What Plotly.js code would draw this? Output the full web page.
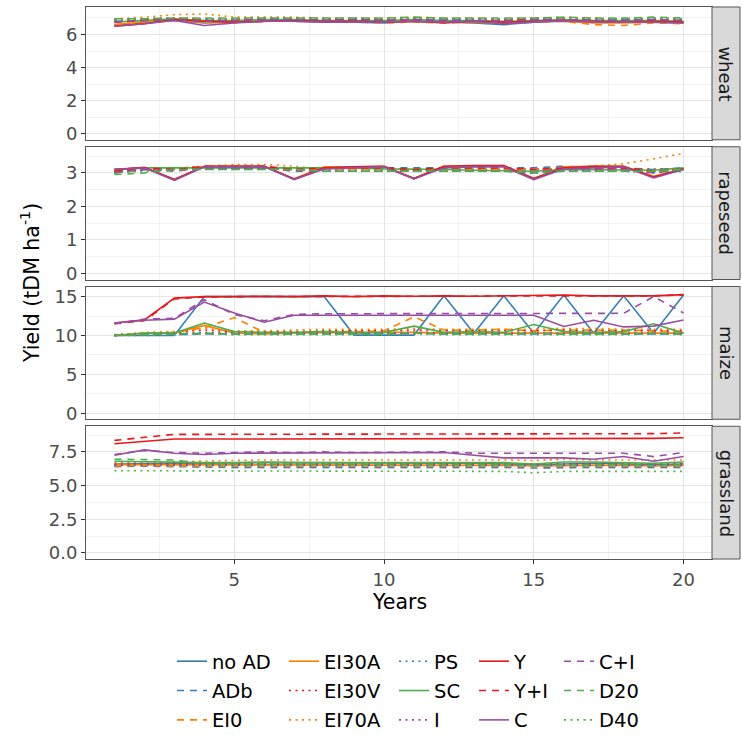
<!DOCTYPE html>
<html><head><meta charset="utf-8">
<script src="https://cdn.plot.ly/plotly-3.0.1.min.js"></script>
<style>html,body{margin:0;padding:0;background:#fff}</style>
</head><body><div id="chart" style="width:742px;height:735px"></div>
<script>
// ---------------- data ----------------
const years = [1,2,3,4,5,6,7,8,9,10,11,12,13,14,15,16,17,18,19,20];
const scenarios = ['no AD','ADb','EI0','EI30A','EI30V','EI70A','PS','SC','I','Y','Y+I','C','C+I','D20','D40'];
const crops = ['wheat','rapeseed','maize','grassland'];

// wheat
const wheat_noAD  = [6.55,6.7,6.85,6.7,6.75,6.8,6.8,6.75,6.75,6.7,6.8,6.75,6.7,6.6,6.75,6.8,6.75,6.8,6.75,6.7];
const wheat_ADb   = [6.8,6.85,6.9,6.85,6.85,6.9,6.9,6.85,6.9,6.85,6.9,6.9,6.85,6.85,6.9,6.9,6.85,6.9,6.9,6.85];
const wheat_EI0   = [6.6,6.75,6.85,6.75,6.7,6.8,6.8,6.75,6.75,6.7,6.75,6.7,6.75,6.7,6.75,6.8,6.6,6.55,6.7,6.65];
const wheat_EI30A = [6.6,6.75,6.9,6.75,6.75,6.8,6.8,6.8,6.75,6.75,6.8,6.75,6.75,6.7,6.8,6.8,6.7,6.7,6.75,6.7];
const wheat_EI30V = [6.9,6.95,7.0,6.95,6.95,7.0,7.0,6.95,6.95,6.95,7.0,6.95,6.95,6.9,6.95,7.0,6.95,6.9,6.95,6.9];
const wheat_EI70A = [6.95,7.05,7.2,7.25,7.05,7.05,7.05,7.0,7.0,7.0,7.05,7.0,7.0,6.95,7.0,7.05,7.0,6.95,7.0,6.95];
const wheat_PS    = [6.85,6.9,6.95,6.9,6.9,6.95,6.95,6.9,6.95,6.9,6.95,6.9,6.9,6.9,6.95,6.95,6.9,6.9,6.9,6.9];
const wheat_SC    = [6.75,6.85,6.95,6.85,6.85,6.9,6.9,6.85,6.85,6.85,6.9,6.85,6.85,6.8,6.85,6.9,6.85,6.85,6.85,6.8];
const wheat_I     = [6.85,6.9,6.95,6.85,6.9,6.95,6.95,6.9,6.9,6.9,6.95,6.9,6.9,6.85,6.9,6.95,6.9,6.9,6.9,6.85];
const wheat_Y     = [6.5,6.65,6.9,6.8,6.75,6.8,6.85,6.8,6.8,6.75,6.8,6.7,6.8,6.75,6.8,6.85,6.8,6.75,6.8,6.75];
const wheat_YI    = [6.75,6.85,6.95,6.85,6.85,6.9,6.9,6.85,6.9,6.85,6.9,6.8,6.85,6.85,6.9,6.9,6.85,6.8,6.85,6.8];
const wheat_C     = [6.5,6.65,6.85,6.55,6.7,6.8,6.8,6.75,6.75,6.75,6.8,6.75,6.8,6.65,6.75,6.85,6.75,6.75,6.75,6.7];
const wheat_CI    = [6.75,6.85,6.9,6.8,6.85,6.9,6.9,6.85,6.9,6.85,6.9,6.85,6.85,6.8,6.9,6.9,6.85,6.85,6.9,6.85];
const wheat_D20   = [6.95,6.95,7.0,7.0,7.0,7.0,7.0,7.0,7.0,7.0,7.05,7.0,7.0,7.0,7.0,7.05,7.0,7.0,7.05,7.0];
const wheat_D40   = [6.9,6.95,7.0,6.95,6.95,7.0,7.0,6.95,7.0,6.95,7.0,6.95,6.95,6.95,7.0,7.0,6.95,6.95,7.0,6.95];

// rapeseed
const rape_noAD  = [3.1,3.15,2.8,3.18,3.2,3.2,2.82,3.15,3.18,3.18,2.83,3.18,3.2,3.2,2.82,3.15,3.18,3.18,2.88,3.1];
const rape_ADb   = [3.05,3.1,3.15,3.15,3.15,3.15,3.15,3.15,3.15,3.15,3.15,3.15,3.15,3.15,3.15,3.2,3.15,3.15,3.1,3.15];
const rape_EI0   = [3.05,3.12,3.1,3.18,3.18,3.18,3.05,3.12,3.12,3.12,3.05,3.12,3.12,3.12,3.05,3.12,3.12,3.12,3.05,3.1];
const rape_EI30A = [3.1,3.15,2.8,3.2,3.2,3.2,2.82,3.18,3.18,3.2,2.83,3.2,3.2,3.2,2.83,3.18,3.2,3.2,2.9,3.12];
const rape_EI30V = [3.05,3.1,3.15,3.15,3.15,3.15,3.15,3.1,3.1,3.1,3.1,3.1,3.1,3.1,3.1,3.1,3.1,3.1,3.1,3.12];
const rape_EI70A = [3.1,3.15,3.15,3.2,3.25,3.25,3.2,3.1,3.1,3.1,3.1,3.1,3.1,3.1,3.1,3.15,3.2,3.27,3.42,3.58];
const rape_PS    = [3.0,3.1,3.1,3.15,3.15,3.15,3.1,3.05,3.05,3.05,3.1,3.05,3.05,3.05,2.98,3.1,3.05,3.05,3.0,3.05];
const rape_SC    = [3.1,3.15,3.15,3.15,3.15,3.15,3.15,3.15,3.15,3.12,3.12,3.1,3.08,3.07,3.05,3.1,3.1,3.1,3.08,3.15];
const rape_I     = [3.0,3.1,3.1,3.15,3.15,3.15,3.1,3.05,3.05,3.05,3.05,3.05,3.05,3.05,3.05,3.1,3.05,3.05,3.05,3.1];
const rape_Y     = [3.1,3.17,2.8,3.2,3.2,3.2,2.82,3.15,3.18,3.2,2.83,3.2,3.22,3.22,2.83,3.15,3.2,3.2,2.88,3.12];
const rape_YI    = [3.05,3.15,3.1,3.2,3.2,3.2,3.1,3.15,3.15,3.15,3.1,3.15,3.15,3.15,3.1,3.15,3.15,3.15,3.05,3.12];
const rape_C     = [3.1,3.15,2.78,3.18,3.18,3.18,2.8,3.12,3.15,3.18,2.82,3.15,3.18,3.18,2.8,3.12,3.15,3.18,2.85,3.1];
const rape_CI    = [3.0,3.1,3.05,3.15,3.15,3.15,3.05,3.05,3.05,3.05,3.05,3.05,3.05,3.05,3.0,3.1,3.1,3.1,3.0,3.1];
const rape_D20   = [2.95,3.0,3.1,3.1,3.1,3.1,3.1,3.05,3.05,3.05,3.05,3.05,3.05,3.05,3.0,3.05,3.05,3.05,3.05,3.1];
const rape_D40   = [3.0,3.05,3.1,3.1,3.1,3.1,3.1,3.05,3.05,3.05,3.05,3.05,3.05,3.05,3.05,3.05,3.05,3.05,3.05,3.08];

// maize
const maize_noAD  = [10.0,10.0,10.0,15.0,15.0,15.0,15.0,15.0,10.05,10.05,10.05,15.1,10.3,15.1,10.3,15.2,10.3,15.1,10.3,15.2];
const maize_ADb   = [10.0,10.1,10.1,10.2,10.2,10.2,10.2,10.2,10.2,10.2,10.3,10.2,10.2,10.2,10.2,10.2,10.2,10.2,10.2,10.2];
const maize_EI0   = [10.0,10.2,10.4,11.0,12.3,10.4,10.3,10.5,10.5,10.6,12.4,10.7,10.7,10.8,10.6,10.7,10.7,10.7,10.6,10.5];
const maize_EI30A = [10.0,10.3,10.3,11.3,10.3,10.2,10.3,10.4,10.3,10.4,10.4,10.3,10.3,10.3,10.3,10.3,10.3,10.3,10.3,10.3];
const maize_EI30V = [10.1,10.3,10.4,10.7,10.5,10.5,10.5,10.6,10.6,10.6,10.7,10.6,10.6,10.6,10.6,10.7,10.6,10.6,10.6,10.6];
const maize_EI70A = [10.1,10.4,10.5,10.9,10.6,10.6,10.7,10.8,10.8,10.8,10.9,10.8,10.8,10.8,10.8,10.9,10.9,10.8,10.8,10.8];
const maize_PS    = [10.0,10.1,10.2,10.3,10.2,10.2,10.2,10.3,10.2,10.2,10.3,10.2,10.2,10.2,10.3,10.2,10.2,10.2,10.2,10.2];
const maize_SC    = [10.0,10.3,10.3,11.6,10.5,10.4,10.4,10.5,10.4,10.4,11.2,10.4,10.5,10.4,11.4,10.5,10.4,10.5,11.5,10.3];
const maize_I     = [10.0,10.1,10.2,10.4,10.3,10.3,10.3,10.3,10.3,10.3,10.4,10.3,10.3,10.3,10.3,10.3,10.3,10.3,10.3,10.3];
const maize_Y     = [11.6,12.0,14.8,15.0,15.0,15.05,15.0,15.1,15.0,15.1,15.05,15.1,15.05,15.1,15.1,15.2,15.1,15.1,15.1,15.25];
const maize_YI    = [11.5,11.9,14.7,14.95,15.0,15.0,15.0,15.05,15.0,15.05,15.05,15.05,15.05,15.1,15.1,15.15,15.1,15.1,15.1,15.2];
const maize_C     = [11.6,11.95,12.1,14.3,12.9,11.7,12.6,12.6,12.6,12.6,12.6,12.6,12.6,12.6,12.6,11.15,11.95,11.1,11.2,12.0];
const maize_CI    = [11.5,12.1,12.2,14.6,12.7,11.9,12.7,12.8,12.8,12.8,12.8,12.8,12.8,12.8,12.85,12.85,12.85,12.85,15.0,12.9];
const maize_D20   = [10.0,10.1,10.2,10.3,10.2,10.2,10.2,10.2,10.2,10.2,10.3,10.2,10.2,10.2,10.3,10.2,10.2,10.2,10.3,10.2];
const maize_D40   = [10.0,10.0,10.1,10.2,10.1,10.1,10.1,10.1,10.1,10.1,10.2,10.1,10.1,10.1,10.1,10.1,10.1,10.1,10.2,10.1];

// grassland
const grass_noAD  = [6.6,6.65,6.65,6.65,6.7,6.7,6.7,6.7,6.7,6.65,6.65,6.65,6.65,6.6,6.55,6.6,6.65,6.6,6.55,6.6];
const grass_ADb   = [6.4,6.45,6.4,6.35,6.35,6.35,6.35,6.4,6.35,6.35,6.35,6.35,6.35,6.35,6.3,6.35,6.35,6.35,6.35,6.35];
const grass_EI0   = [6.45,6.5,6.45,6.45,6.45,6.45,6.45,6.45,6.45,6.45,6.45,6.45,6.45,6.45,6.4,6.45,6.45,6.45,6.4,6.45];
const grass_EI30A = [6.55,6.55,6.5,6.5,6.5,6.5,6.5,6.5,6.5,6.5,6.5,6.5,6.5,6.5,6.45,6.5,6.5,6.5,6.45,6.5];
const grass_EI30V = [6.6,6.6,6.6,6.6,6.6,6.6,6.6,6.6,6.6,6.6,6.6,6.6,6.6,6.6,6.55,6.6,6.6,6.6,6.55,6.6];
const grass_EI70A = [6.7,6.75,6.8,6.8,6.85,6.9,6.9,6.9,6.9,6.9,6.95,6.95,6.9,6.9,6.85,6.95,6.9,6.9,6.85,6.9];
const grass_PS    = [6.5,6.55,6.5,6.5,6.5,6.5,6.5,6.5,6.5,6.5,6.5,6.5,6.5,6.5,6.45,6.5,6.5,6.5,6.45,6.5];
const grass_SC    = [6.8,6.75,6.7,6.7,6.7,6.75,6.7,6.7,6.7,6.7,6.65,6.7,6.65,6.7,6.6,6.75,6.75,6.7,6.65,6.75];
const grass_I     = [6.55,6.6,6.55,6.55,6.55,6.55,6.55,6.55,6.55,6.55,6.55,6.55,6.55,6.55,6.5,6.55,6.55,6.55,6.5,6.55];
const grass_Y     = [8.1,8.3,8.45,8.45,8.45,8.45,8.45,8.45,8.5,8.5,8.45,8.5,8.5,8.5,8.5,8.5,8.5,8.5,8.5,8.55];
const grass_YI    = [8.35,8.6,8.8,8.8,8.8,8.8,8.8,8.8,8.85,8.85,8.85,8.85,8.85,8.85,8.85,8.85,8.85,8.85,8.85,8.9];
const grass_C     = [7.25,7.65,7.4,7.3,7.4,7.4,7.4,7.45,7.45,7.4,7.4,7.45,7.25,7.05,7.05,7.05,6.95,7.15,6.8,7.15];
const grass_CI    = [7.3,7.6,7.45,7.4,7.45,7.5,7.45,7.5,7.45,7.45,7.45,7.5,7.4,7.4,7.4,7.45,7.4,7.4,7.15,7.45];
const grass_D20   = [6.95,6.95,6.9,6.6,6.6,6.6,6.55,6.6,6.6,6.6,6.55,6.6,6.55,6.55,6.5,6.55,6.55,6.55,6.5,6.55];
const grass_D40   = [6.1,6.1,6.1,6.1,6.1,6.1,6.1,6.1,6.1,6.05,6.05,6.1,6.05,6.05,5.95,6.05,6.05,6.05,6.0,6.05];

// tick labels
const xTicks = [5,10,15,20];
const wheatTicks = [0,2,4,6];
const rapeTicks = [0,1,2,3];
const maizeTicks = [0,5,10,15];
const grassTicks = [0,2.5,5,7.5];

// ---------------- build ----------------
const cropSeries = [
  [wheat_noAD,wheat_ADb,wheat_EI0,wheat_EI30A,wheat_EI30V,wheat_EI70A,wheat_PS,wheat_SC,wheat_I,wheat_Y,wheat_YI,wheat_C,wheat_CI,wheat_D20,wheat_D40],
  [rape_noAD,rape_ADb,rape_EI0,rape_EI30A,rape_EI30V,rape_EI70A,rape_PS,rape_SC,rape_I,rape_Y,rape_YI,rape_C,rape_CI,rape_D20,rape_D40],
  [maize_noAD,maize_ADb,maize_EI0,maize_EI30A,maize_EI30V,maize_EI70A,maize_PS,maize_SC,maize_I,maize_Y,maize_YI,maize_C,maize_CI,maize_D20,maize_D40],
  [grass_noAD,grass_ADb,grass_EI0,grass_EI30A,grass_EI30V,grass_EI70A,grass_PS,grass_SC,grass_I,grass_Y,grass_YI,grass_C,grass_CI,grass_D20,grass_D40]
];
const cropTicks = [wheatTicks, rapeTicks, maizeTicks, grassTicks];

const RED='#E41A1C', BLUE='#377EB8', GREEN='#4DAF4A', PURPLE='#984EA3', ORANGE='#FF7F00';
const DASHED='7px,6px', DOTTED='2px,4.5px';
const styleColor = [BLUE,BLUE,ORANGE,ORANGE,RED,ORANGE,BLUE,GREEN,PURPLE,RED,RED,PURPLE,PURPLE,GREEN,GREEN];
const styleDash  = ['solid',DASHED,DASHED,'solid',DOTTED,DOTTED,DOTTED,'solid',DOTTED,'solid',DASHED,'solid',DASHED,DASHED,DOTTED];

const FONT = 'DejaVu Sans, Liberation Sans, Arial, sans-serif';
const H = 552, panelH = 132.75, gap = 7;
const domains = [0,1,2,3].map(i => {
  const top = i*(panelH+gap), bot = top+panelH;
  return [(H-bot)/H, (H-top)/H];
});
const ranges = [[-0.365,7.665],[-0.18,3.78],[-0.78,16.3],[-0.45,9.4]];
const minorY = [[1,3,5,7],[0.5,1.5,2.5,3.5],[2.5,7.5,12.5],[1.25,3.75,6.25,8.75]];

const traces = [];
scenarios.forEach((name, s) => {
  const col = Math.floor(s/3);
  crops.forEach((crop, c) => {
    const sfx = c===0 ? '' : String(c+1);
    traces.push({
      x: years, y: cropSeries[c][s], type: 'scatter', mode: 'lines',
      name: name, legendgroup: name, showlegend: c===0,
      legend: col===0 ? 'legend' : 'legend'+(col+1),
      xaxis: 'x'+sfx, yaxis: 'y'+sfx,
      line: {color: styleColor[s], width: 1.6, dash: styleDash[s]},
      hoverinfo: 'skip'
    });
  });
});

const layout = {
  width: 742, height: 735,
  margin: {l: 86, r: 30, t: 7, b: 176, autoexpand: false},
  paper_bgcolor: '#fff', plot_bgcolor: '#fff',
  font: {family: FONT, color: '#000'},
  shapes: [], annotations: []
};

const legendX = [172, 284, 394, 474, 559];
legendX.forEach((px, i) => {
  const key = i===0 ? 'legend' : 'legend'+(i+1);
  layout[key] = {
    x: (px-86)/626, y: (559-642)/552, xanchor: 'left', yanchor: 'top',
    orientation: 'v', bgcolor: 'rgba(0,0,0,0)', borderwidth: 0,
    font: {family: FONT, size: 19.5, color: '#000'},
    tracegroupgap: 1, itemwidth: 30, itemclick: false, itemdoubleclick: false
  };
});

const MAJOR = '#E4E4E4', MINOR = '#F2F2F2';
crops.forEach((crop, c) => {
  const sfx = c===0 ? '' : String(c+1);
  const bottom = c===3;
  layout['xaxis'+sfx] = {
    domain: [0,1], anchor: 'y'+sfx, range: [0.05, 20.95],
    tickvals: xTicks, ticktext: xTicks.map(String),
    showticklabels: bottom, ticks: bottom ? 'outside' : '', ticklen: 4, tickwidth: 1, tickcolor: '#333',
    tickfont: {family: FONT, size: 18, color: '#4D4D4D'},
    showgrid: true, gridcolor: MAJOR, gridwidth: 1,
    minor: {tickvals: [2.5,7.5,12.5,17.5], showgrid: true, gridcolor: MINOR, gridwidth: 1, ticks: ''},
    showline: true, mirror: true, linecolor: '#555', linewidth: 1, zeroline: false, fixedrange: true
  };
  layout['yaxis'+sfx] = {
    domain: domains[c], anchor: 'x'+sfx, range: ranges[c],
    tickvals: cropTicks[c], ticktext: cropTicks[c].map(v => c===3 ? v.toFixed(1) : String(v)),
    ticks: 'outside', ticklen: 4, tickwidth: 1, tickcolor: '#333',
    tickfont: {family: FONT, size: 18, color: '#4D4D4D'},
    showgrid: true, gridcolor: MAJOR, gridwidth: 1,
    minor: {tickvals: minorY[c], showgrid: true, gridcolor: MINOR, gridwidth: 1, ticks: ''},
    showline: true, mirror: true, linecolor: '#555', linewidth: 1, zeroline: false, fixedrange: true
  };
  layout.shapes.push({
    type: 'rect', xref: 'paper', yref: 'y'+sfx+' domain',
    x0: 1, x1: 1+28/626, y0: 0, y1: 1,
    fillcolor: '#D9D9D9', line: {color: '#555', width: 1}, layer: 'above'
  });
  layout.annotations.push({
    xref: 'paper', yref: 'y'+sfx+' domain', x: 1+14/626, y: 0.5,
    text: crop, showarrow: false, textangle: 90,
    xanchor: 'center', yanchor: 'middle',
    font: {family: FONT, size: 18, color: '#1A1A1A'}
  });
});

layout.annotations.push({
  xref: 'paper', yref: 'paper', x: (30-86)/626, y: 0.5,
  text: 'Yield (tDM ha<sup>-1</sup>)', showarrow: false, textangle: -90,
  xanchor: 'center', yanchor: 'middle', font: {family: FONT, size: 20.5, color: '#000'}
});
layout.annotations.push({
  xref: 'paper', yref: 'paper', x: 0.5, y: (559-602)/552,
  text: 'Years', showarrow: false, xanchor: 'center', yanchor: 'middle',
  font: {family: FONT, size: 20.5, color: '#000'}
});

Plotly.newPlot('chart', traces, layout, {displayModeBar: false, staticPlot: true});
</script>
</body></html>
